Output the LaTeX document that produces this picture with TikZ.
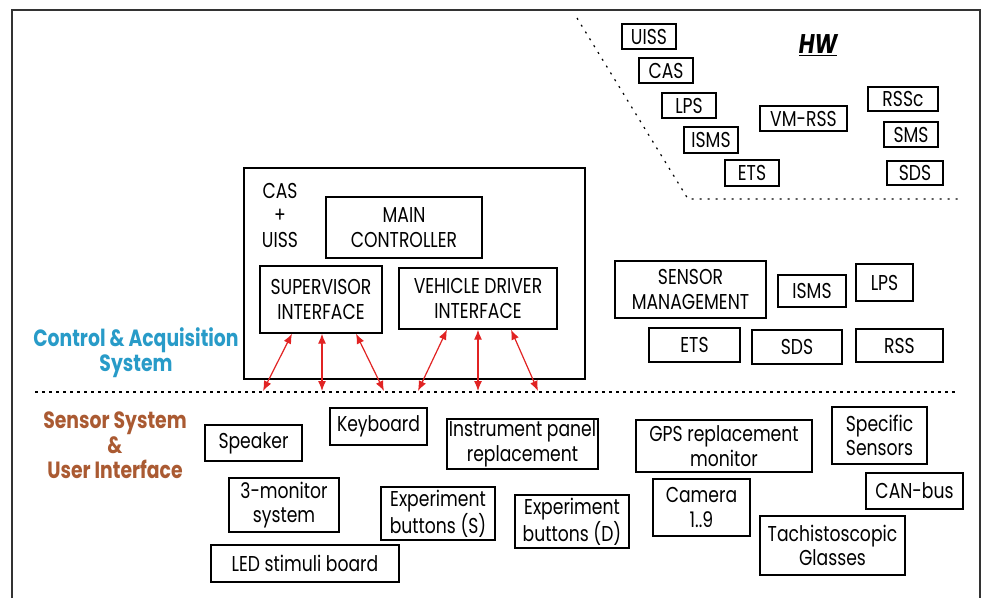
\documentclass[tikz,border=0pt]{standalone}
\usepackage{fontspec}
\setmainfont{Poppins}[FakeStretch=0.8]
\usetikzlibrary{arrows.meta}
\definecolor{arrowred}{RGB}{225,35,35}
\definecolor{casblue}{RGB}{40,155,200}
\definecolor{ssbrown}{RGB}{170,90,50}

\begin{document}
\begin{tikzpicture}[x=1pt,y=-1pt,
    box/.style={draw, line width=1.3pt, inner sep=0pt, align=center, font=\fontsize{21.5}{24.5}\selectfont},
    link/.style={arrowred, line width=1.2pt, {Latex[length=10pt,width=8pt]}-{Latex[length=10pt,width=8pt]}},
    grp/.style={font=\fontsize{23.5}{25}\selectfont\bfseries, align=center}]
    \useasboundingbox (0,0) rectangle (986,598);

    % 外框
    \draw[line width=1.3pt, black!80] (12,598) -- (12,10) -- (980,10) -- (980,598);

    % HW 区域
    \draw[line width=1.2pt, dash pattern=on 2pt off 6pt] (577,18) -- (688,199) -- (960,199);
    \node[font=\fontsize{27}{27}\selectfont\bfseries\itshape] (hw) at (818,45) {\underline{HW}};
    \node[box, minimum width=54, minimum height=25] (uiss) at (649,36.5) {UISS};
    \node[box, minimum width=54, minimum height=25] (cas) at (666,70.5) {CAS};
    \node[box, minimum width=54, minimum height=25] (lps) at (689,105.5) {LPS};
    \node[box, minimum width=54, minimum height=26] (isms) at (711,140) {ISMS};
    \node[box, minimum width=54, minimum height=26] (ets) at (752,173) {ETS};
    \node[box, minimum width=87, minimum height=25] (vmrss) at (803.5,118.5) {VM-RSS};
    \node[box, minimum width=70, minimum height=24] (rssc) at (903,99) {RSSc};
    \node[box, minimum width=54, minimum height=25] (sms) at (911,134.5) {SMS};
    \node[box, minimum width=56, minimum height=24] (sds) at (915,173) {SDS};

    % CAS + UISS 方框
    \node[box, minimum width=341, minimum height=211] (casuiss) at (414.5,273.5) {};
    \node[box, draw=none] (casname) at (280,215) {CAS\\+\\UISS};
    \node[box, minimum width=156, minimum height=61] (main) at (404,227.5) {MAIN\\CONTROLLER};
    \node[box, minimum width=122, minimum height=67] (sup) at (321,299.5) {SUPERVISOR\\INTERFACE};
    \node[box, minimum width=158, minimum height=61] (vdi) at (478,298.5) {VEHICLE DRIVER\\INTERFACE};

    % 右侧传感器管理
    \node[box, minimum width=151, minimum height=57] (sensman) at (690.5,289.5) {SENSOR\\MANAGEMENT};
    \node[box, minimum width=68, minimum height=32] (isms2) at (812,291) {ISMS};
    \node[box, minimum width=57, minimum height=37] (lps2) at (884.5,282.5) {LPS};
    \node[box, minimum width=91, minimum height=34] (ets2) at (694.5,345) {ETS};
    \node[box, minimum width=90, minimum height=34] (sds2) at (797,347) {SDS};
    \node[box, minimum width=87, minimum height=33] (rss2) at (899.5,345.5) {RSS};

    % 分隔线和标签
    \draw[line width=1.2pt, dash pattern=on 3pt off 4pt] (35,392) -- (955,392);
    \node[grp, text=casblue] (casl) at (136,353) {Control \& Acquisition\\System};
    \node[grp, text=ssbrown] (ssl) at (115,445) {Sensor System\\\&\\User Interface};

    % 下方设备
    \node[box, minimum width=97, minimum height=36] (speaker) at (253.5,443) {Speaker};
    \node[box, minimum width=97, minimum height=37] (keyb) at (378.5,426.5) {Keyboard};
    \node[box, minimum width=151, minimum height=50] (instr) at (522.5,444) {Instrument panel\\replacement};
    \node[box, minimum width=176, minimum height=52] (gps) at (724,446) {GPS replacement\\monitor};
    \node[box, minimum width=95, minimum height=57] (spec) at (879.5,435.5) {Specific\\Sensors};
    \node[box, minimum width=97, minimum height=36] (canbus) at (914.5,491) {CAN-bus};
    \node[box, minimum width=110, minimum height=54] (mon) at (284,505) {3-monitor\\system};
    \node[box, minimum width=114, minimum height=53] (exps) at (438,513.5) {Experiment\\buttons (S)};
    \node[box, minimum width=114, minimum height=53] (expd) at (572,521.5) {Experiment\\buttons (D)};
    \node[box, minimum width=97, minimum height=57] (cam) at (701.5,507.5) {Camera\\1..9};
    \node[box, minimum width=145, minimum height=59] (tachi) at (832.5,545.5) {Tachistoscopic\\Glasses};
    \node[box, minimum width=188, minimum height=37] (led) at (305,563.5) {LED stimuli board};

    % 接口连线
    \coordinate (s1) at (263,391);
    \coordinate (s2) at (322,391);
    \coordinate (s3) at (384,391);
    \coordinate (v1) at (418,391);
    \coordinate (v2) at (478,391);
    \coordinate (v3) at (538,391);
    \draw[link] ([xshift=-29pt]sup.south) -- (s1);
    \draw[link] ([xshift=1pt]sup.south) -- (s2);
    \draw[link] ([xshift=35pt]sup.south) -- (s3);
    \draw[link] ([xshift=-31pt]vdi.south) -- (v1);
    \draw[link] (vdi.south) -- (v2);
    \draw[link] ([xshift=33pt]vdi.south) -- (v3);
\end{tikzpicture}
\end{document}
